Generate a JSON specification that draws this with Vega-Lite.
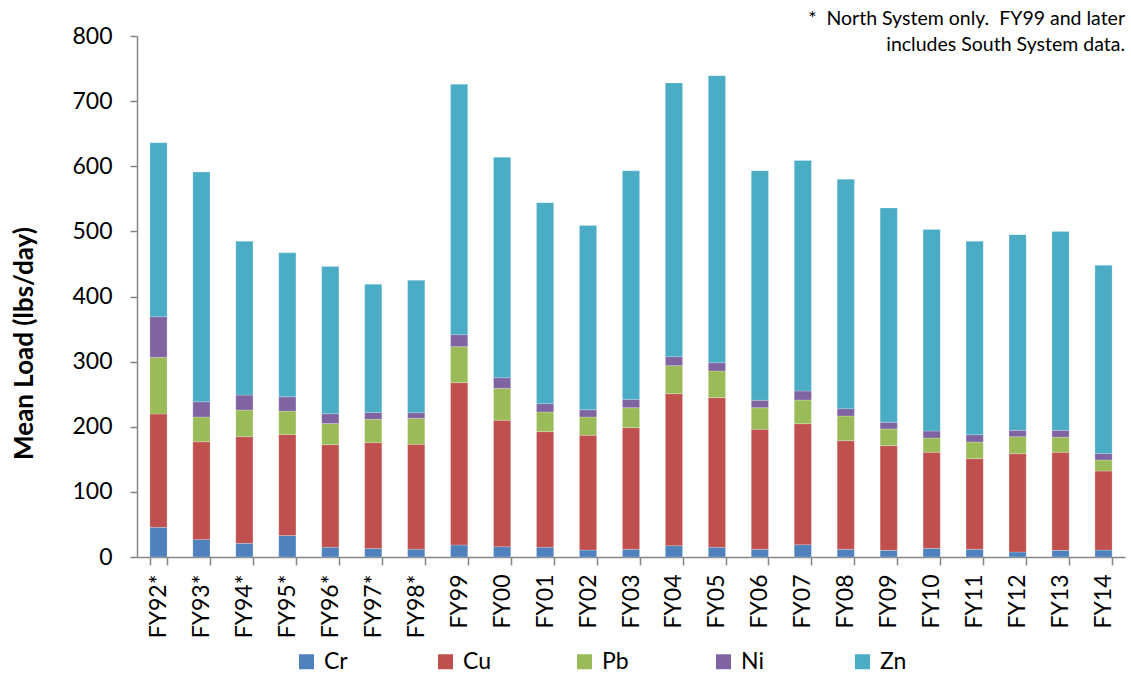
{
  "$schema": "https://vega.github.io/schema/vega-lite/v6.json",
  "width": 988,
  "height": 521,
  "autosize": {"type": "none"},
  "padding": {"left": 137, "top": 36, "right": 6, "bottom": 117},
  "background": "white",
  "title": {
    "text": ["*\u00a0 North System only.\u00a0 FY99 and later", "includes South System data."],
    "anchor": "end",
    "frame": "group",
    "align": "right",
    "baseline": "top",
    "font": "Lato",
    "fontSize": 19.5,
    "fontWeight": "normal",
    "color": "#000000",
    "lineHeight": 26,
    "offset": 0,
    "dy": 30
  },
  "data": {
    "values": [
      {"fy": "FY92*", "Cr": 45.6, "Cu": 174, "Pb": 87, "Ni": 62.4, "Zn": 267},
      {"fy": "FY93*", "Cr": 27, "Cu": 150, "Pb": 38, "Ni": 23.5, "Zn": 352.5},
      {"fy": "FY94*", "Cr": 21, "Cu": 163.7, "Pb": 41, "Ni": 23, "Zn": 236.3},
      {"fy": "FY95*", "Cr": 33, "Cu": 155, "Pb": 36, "Ni": 22, "Zn": 221},
      {"fy": "FY96*", "Cr": 15, "Cu": 157.5, "Pb": 32.5, "Ni": 15, "Zn": 226},
      {"fy": "FY97*", "Cr": 13, "Cu": 162.6, "Pb": 35.8, "Ni": 10.6, "Zn": 197},
      {"fy": "FY98*", "Cr": 12, "Cu": 161, "Pb": 40, "Ni": 8.6, "Zn": 203.4},
      {"fy": "FY99", "Cr": 18.4, "Cu": 249.3, "Pb": 55.3, "Ni": 18.4, "Zn": 384.6},
      {"fy": "FY00", "Cr": 15.9, "Cu": 194.1, "Pb": 49, "Ni": 16.4, "Zn": 338.6},
      {"fy": "FY01", "Cr": 15, "Cu": 177.5, "Pb": 30.2, "Ni": 12.8, "Zn": 308.5},
      {"fy": "FY02", "Cr": 10.7, "Cu": 176.1, "Pb": 28.2, "Ni": 11, "Zn": 283},
      {"fy": "FY03", "Cr": 11.8, "Cu": 186.8, "Pb": 30.7, "Ni": 12.7, "Zn": 351},
      {"fy": "FY04", "Cr": 17.4, "Cu": 233.4, "Pb": 43, "Ni": 13.8, "Zn": 420.4},
      {"fy": "FY05", "Cr": 15, "Cu": 229.7, "Pb": 40.9, "Ni": 12.8, "Zn": 440.6},
      {"fy": "FY06", "Cr": 11.8, "Cu": 184.2, "Pb": 33.3, "Ni": 11.3, "Zn": 352.4},
      {"fy": "FY07", "Cr": 19, "Cu": 185.7, "Pb": 36.3, "Ni": 14, "Zn": 354},
      {"fy": "FY08", "Cr": 11.8, "Cu": 166.8, "Pb": 37.9, "Ni": 11.3, "Zn": 352.2},
      {"fy": "FY09", "Cr": 10.2, "Cu": 160.8, "Pb": 25.6, "Ni": 10.2, "Zn": 329.2},
      {"fy": "FY10", "Cr": 13.3, "Cu": 147.4, "Pb": 22, "Ni": 10.8, "Zn": 309.5},
      {"fy": "FY11", "Cr": 11.8, "Cu": 139.2, "Pb": 25.6, "Ni": 11.2, "Zn": 297.2},
      {"fy": "FY12", "Cr": 7.7, "Cu": 150.9, "Pb": 26.1, "Ni": 9.8, "Zn": 300.5},
      {"fy": "FY13", "Cr": 10.2, "Cu": 150.5, "Pb": 23.3, "Ni": 10.5, "Zn": 305.5},
      {"fy": "FY14", "Cr": 10.7, "Cu": 121.3, "Pb": 17, "Ni": 10, "Zn": 289}
    ]
  },
  "transform": [
    {"fold": ["Cr", "Cu", "Pb", "Ni", "Zn"], "as": ["metal", "load"]},
    {"calculate": "indexof(['Cr','Cu','Pb','Ni','Zn'], datum.metal)", "as": "stackOrder"}
  ],
  "mark": {"type": "bar", "stroke": "white", "strokeOpacity": 0.35, "strokeWidth": 0.6},
  "encoding": {
    "x": {
      "field": "fy",
      "type": "nominal",
      "sort": null,
      "scale": {"paddingInner": 0.6, "paddingOuter": 0.3},
      "axis": {
        "title": null,
        "labelAngle": -90,
        "labelFont": "Lato",
        "labelFontSize": 23,
        "labelColor": "#000000",
        "labelPadding": 9,
        "tickBand": "extent",
        "tickSize": 8,
        "tickColor": "#868686",
        "domainColor": "#868686",
        "domainWidth": 1.5,
        "tickWidth": 1.5
      }
    },
    "y": {
      "field": "load",
      "type": "quantitative",
      "stack": "zero",
      "scale": {"domain": [0, 800], "nice": false},
      "axis": {
        "title": "Mean Load (lbs/day)",
        "titleFont": "Lato",
        "titleFontSize": 26,
        "titleFontWeight": "bold",
        "titleColor": "#000000",
        "titlePadding": 34,
        "titleY": 307,
        "values": [0, 100, 200, 300, 400, 500, 600, 700, 800],
        "labelFont": "Lato",
        "labelFontSize": 23,
        "labelColor": "#000000",
        "labelPadding": 18,
        "tickSize": 7,
        "tickColor": "#868686",
        "domainColor": "#868686",
        "domainWidth": 1.5,
        "tickWidth": 1.5,
        "grid": false
      }
    },
    "color": {
      "field": "metal",
      "type": "nominal",
      "scale": {
        "domain": ["Cr", "Cu", "Pb", "Ni", "Zn"],
        "range": ["#4F81BD", "#C0504D", "#9BBB59", "#8064A2", "#4BACC6"]
      },
      "legend": {
        "title": null,
        "orient": "none",
        "legendX": 158,
        "legendY": 614,
        "direction": "horizontal",
        "symbolType": "square",
        "symbolSize": 225,
        "symbolStrokeWidth": 0,
        "labelFont": "Lato",
        "labelFontSize": 23,
        "labelColor": "#000000",
        "labelOffset": 6,
        "gridAlign": "all",
        "columnPadding": 81
      }
    },
    "order": {"field": "stackOrder", "type": "quantitative"}
  },
  "config": {"view": {"stroke": null}}
}
